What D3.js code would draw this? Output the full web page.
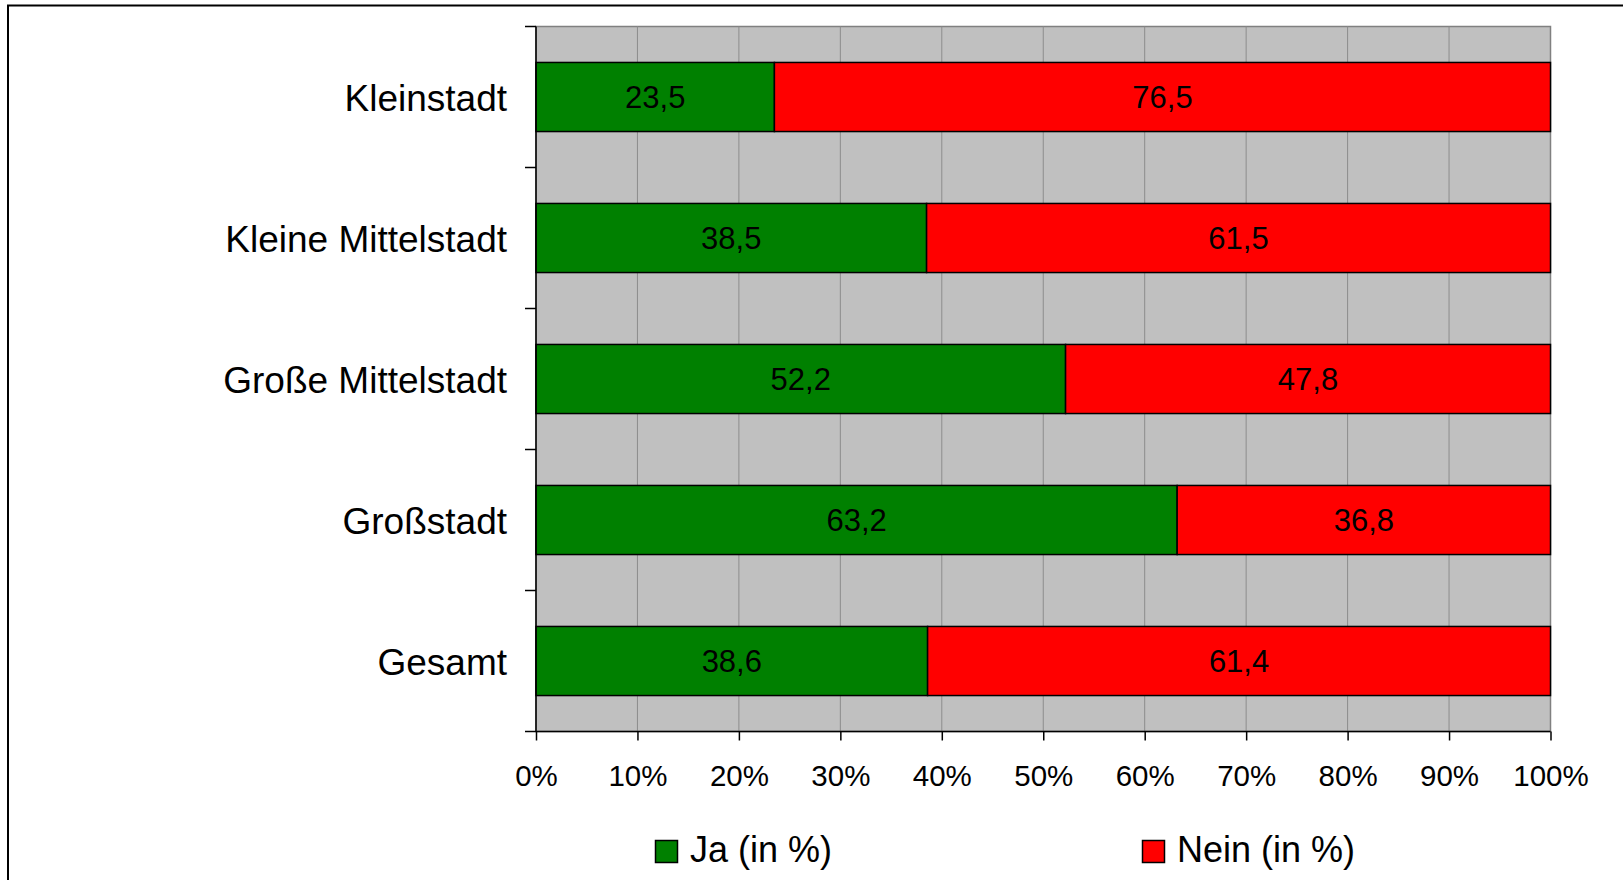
<!DOCTYPE html>
<html>
<head>
<meta charset="utf-8">
<script src="https://cdn.jsdelivr.net/npm/d3@7"></script>
<style>
  html, body { margin: 0; padding: 0; background: #fff; }
  svg { display: block; font-family: Arial, "Liberation Sans", sans-serif; }
</style>
</head>
<body>
<div id="chart"></div>
<script>
const categories = ['Kleinstadt', 'Kleine Mittelstadt', 'Große Mittelstadt', 'Großstadt', 'Gesamt'];
const jaValues = [23.5, 38.5, 52.2, 63.2, 38.6];
const neinValues = [76.5, 61.5, 47.8, 36.8, 61.4];
const seriesNames = ['Ja (in %)', 'Nein (in %)'];
const seriesColors = ['#008000', '#ff0000'];
const xTicks = [0, 10, 20, 30, 40, 50, 60, 70, 80, 90, 100];

const width = 1623, height = 880;
const plot = { left: 536, right: 1550.5, top: 26.5, bottom: 731.5 };

const svg = d3.select('#chart').append('svg')
    .attr('width', width)
    .attr('height', height);

// Rahmen
svg.append('rect')
    .attr('x', 8).attr('y', 5.5)
    .attr('width', width + 10).attr('height', height + 10)
    .attr('fill', 'none')
    .attr('stroke', '#000')
    .attr('stroke-width', 2);

const x = d3.scaleLinear().domain([0, 100]).range([plot.left, plot.right]);
const y = d3.scaleBand().domain(categories)
    .range([plot.top, plot.bottom])
    .paddingInner(0.51)
    .paddingOuter(0.255);

// Hintergrund
svg.append('rect')
    .attr('x', plot.left).attr('y', plot.top)
    .attr('width', plot.right - plot.left)
    .attr('height', plot.bottom - plot.top)
    .attr('fill', '#c0c0c0')
    .attr('stroke', '#808080')
    .attr('stroke-width', 1.5);

// Gitterlinien
svg.append('g')
    .selectAll('line')
    .data(xTicks.slice(1, -1))
    .join('line')
    .attr('x1', d => x(d)).attr('x2', d => x(d))
    .attr('y1', plot.top).attr('y2', plot.bottom)
    .attr('stroke', '#8c8c8c')
    .attr('stroke-width', 1);

// Balken
const stacked = categories.map((c, i) => [
    { cat: c, s: 0, x0: 0, x1: jaValues[i], v: jaValues[i] },
    { cat: c, s: 1, x0: jaValues[i], x1: jaValues[i] + neinValues[i], v: neinValues[i] }
]).flat();

svg.append('g')
    .selectAll('rect')
    .data(stacked)
    .join('rect')
    .attr('x', d => x(d.x0))
    .attr('y', d => y(d.cat))
    .attr('width', d => x(d.x1) - x(d.x0))
    .attr('height', y.bandwidth())
    .attr('fill', d => seriesColors[d.s])
    .attr('stroke', '#000')
    .attr('stroke-width', 1.5);

svg.append('g')
    .selectAll('text')
    .data(stacked)
    .join('text')
    .attr('x', d => (x(d.x0) + x(d.x1)) / 2)
    .attr('y', d => y(d.cat) + y.bandwidth() / 2)
    .attr('dy', '0.35em')
    .attr('text-anchor', 'middle')
    .style('font-size', '31px')
    .attr('fill', '#000')
    .text(d => d3.format('.1f')(d.v).replace('.', ','));

// X-Achse
const xAxis = svg.append('g')
    .attr('transform', `translate(0,${plot.bottom})`)
    .call(d3.axisBottom(x).tickValues(xTicks).tickSize(9).tickPadding(25).tickFormat(d => d + '%'));
xAxis.select('.domain').attr('stroke', '#000').attr('stroke-width', 1.5)
    .attr('d', `M${plot.left - 11},0H${plot.right}`);
xAxis.selectAll('.tick line').attr('stroke', '#000').attr('stroke-width', 1.5);
xAxis.selectAll('.tick text')
    .style('font-size', '29.5px')
    .attr('fill', '#000')
    .attr('font-family', 'Arial, "Liberation Sans", sans-serif');

// Y-Achse
const yAxisG = svg.append('g');
yAxisG.append('line')
    .attr('x1', plot.left).attr('x2', plot.left)
    .attr('y1', plot.top).attr('y2', plot.bottom)
    .attr('stroke', '#000').attr('stroke-width', 1.5);
const boundaries = categories.map(c => y(c) - y.step() * y.paddingOuter());
yAxisG.selectAll('.ytick')
    .data(boundaries)
    .join('line')
    .attr('class', 'ytick')
    .attr('x1', plot.left - 11).attr('x2', plot.left)
    .attr('y1', d => d).attr('y2', d => d)
    .attr('stroke', '#000').attr('stroke-width', 1.5);
yAxisG.selectAll('text')
    .data(categories)
    .join('text')
    .attr('x', 507)
    .attr('y', d => y(d) + y.bandwidth() / 2)
    .attr('dy', '0.37em')
    .attr('text-anchor', 'end')
    .style('font-size', '37px')
    .attr('fill', '#000')
    .text(d => d);

// Legende
const legendX = [655.5, 1142.5];
const legend = svg.append('g')
    .selectAll('g')
    .data(seriesNames)
    .join('g')
    .attr('transform', (d, i) => `translate(${legendX[i]},840.5)`);
legend.append('rect')
    .attr('width', 22).attr('height', 22)
    .attr('fill', (d, i) => seriesColors[i])
    .attr('stroke', '#000').attr('stroke-width', 1.5);
legend.append('text')
    .attr('x', 34.5)
    .attr('y', 21)
    .style('font-size', '36px')
    .attr('fill', '#000')
    .text(d => d);
</script>
</body>
</html>
